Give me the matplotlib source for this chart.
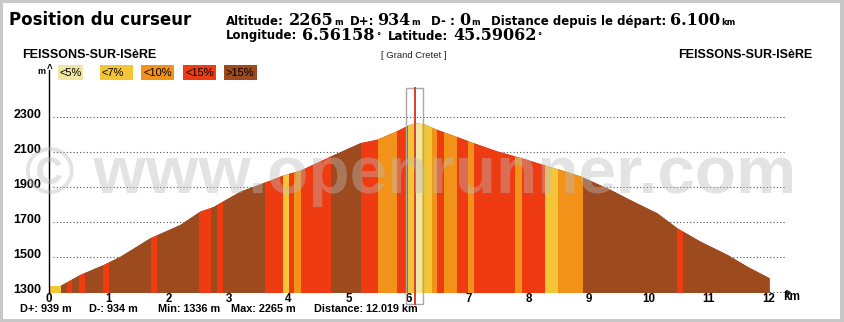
import numpy as np
import matplotlib.pyplot as plt
from matplotlib.patches import Rectangle, Polygon
from matplotlib.transforms import ScaledTranslation

W, H, DPI = 844, 322, 100

# elevation profile: distance (km) / altitude (m)
dist = [0.0, 0.2, 0.53, 0.92, 1.2, 1.7, 2.2, 2.53, 2.75, 3.2, 3.65, 3.92, 4.2,
        4.7, 5.2, 5.48, 5.82, 5.98, 6.1, 6.25, 6.48, 6.75, 7.08, 7.48, 7.87,
        8.32, 8.6, 8.87, 9.37, 9.75, 10.15, 10.48, 10.87, 11.32, 11.65, 12.019]
alt = [1336, 1336, 1399, 1456, 1503, 1609, 1685, 1761, 1787, 1875, 1932, 1968,
       1995, 2075, 2152, 2172, 2222, 2250, 2265, 2262, 2228, 2195, 2153, 2105,
       2068, 2020, 1992, 1962, 1885, 1818, 1751, 1666, 1589, 1513, 1446, 1380]

# slope classes along the route (index into grade_labels)
band_start = [0.0, 0.2, 0.31, 0.39, 0.5, 0.6, 0.9, 1.0, 1.7, 1.81, 2.5, 2.7,
              2.8, 2.9, 3.6, 3.9, 4.0, 4.09, 4.2, 4.7, 5.2, 5.49, 5.8, 5.99,
              6.1, 6.23, 6.39, 6.48, 6.59, 6.8, 6.99, 7.09, 7.78, 7.89, 8.28,
              8.49, 8.9, 10.48, 10.58]
band_end = band_start[1:] + [12.019]
band_grade = [1, 4, 3, 4, 3, 4, 3, 4, 3, 4, 3, 4,
              3, 4, 3, 1, 3, 2, 3, 4, 3, 2, 3, 1,
              0, 1, 2, 3, 2, 3, 2, 3, 2, 3, 1,
              2, 4, 3, 4]

grade_labels = ['<5%', '<7%', '<10%', '<15%', '>15%']
grade_colors = ['#EEE6A2', '#F5C538', '#F29218', '#EE3B12', '#9C4A1E']

y_ticks = [1300, 1500, 1700, 1900, 2100, 2300]
x_ticks = list(range(13))

cursor_km = 6.1
summary = ['D+: 939 m', 'D-: 934 m', 'Min: 1336 m', 'Max: 2265 m',
           'Distance: 12.019 km']

SANS = 'Liberation Sans'
WIDE = 'DejaVu Sans'
SERIF = 'DejaVu Serif'

STYLES = {
    'l': dict(fontsize=8.5, fontweight='bold', family=WIDE),
    'n': dict(fontsize=11.5, fontweight='bold', family=SERIF),
    'u': dict(fontsize=6, fontweight='bold', family=WIDE),
}


def put(fig, x, y, s, **kw):
    # place text using pixel coordinates measured from the top-left corner
    return fig.text(x / W, 1 - y / H, s, **kw)


def chain(fig, renderer, x, y, parts):
    # write label / value / unit pieces one after another
    for s, kind, gap in parts:
        t = put(fig, x, y, s, va='baseline', **STYLES[kind])
        x = t.get_window_extent(renderer).x1 + gap


def main():
    fig = plt.figure(figsize=(W / DPI, H / DPI), dpi=DPI)
    fig.patch.set_facecolor('#C8C8C8')
    fig.patches.append(Rectangle((3 / W, 3 / H), 837 / W, 316 / H,
                                 transform=fig.transFigure, facecolor='white',
                                 edgecolor='none', zorder=-10))
    renderer = fig.canvas.get_renderer()

    # axes: 60 px per km, 0.175 px per metre
    px_km, px_m = 60.0, 0.175
    ax_left, ax_right, ax_top, ax_bot = 48.5, 790, 70, 293
    ymin = 1300 - (ax_bot - 292.3) / px_m
    ymax = 1300 + (292.3 - ax_top) / px_m
    ax = fig.add_axes([ax_left / W, 1 - ax_bot / H,
                       (ax_right - ax_left) / W, (ax_bot - ax_top) / H])
    ax.set_xlim(0, (ax_right - ax_left) / px_km)
    ax.set_ylim(ymin, ymax)
    ax.patch.set_alpha(0)

    # dotted guide lines
    for v in y_ticks:
        ax.plot([0.08, 12.28], [v, v], ls=(0, (1, 2)), color='#505050',
                lw=0.8, zorder=1)
    ax.plot([12.33], [1300], marker='>', ms=3, color='#303030', zorder=1,
            clip_on=False)

    # profile shape, used as clip path for the coloured bands
    verts = [(dist[0], ymin)] + list(zip(dist, alt)) + [(dist[-1], ymin)]
    prof = Polygon(verts, closed=True, facecolor=grade_colors[4],
                   edgecolor='none', zorder=2)
    ax.add_patch(prof)
    for s, e, g in zip(band_start, band_end, band_grade):
        r = ax.axvspan(s, e, color=grade_colors[g], lw=0, zorder=2.5,
                       antialiased=False)
        r.set_clip_path(prof)

    # cursor marker
    y_hi = 1300 + (292.3 - 88) / px_m
    y_lo = 1300 - (304 - 292.3) / px_m
    ax.add_patch(Rectangle((cursor_km - 0.135, y_lo), 0.27, y_hi - y_lo,
                           fill=False, edgecolor='#A8A8A8', lw=1.0,
                           zorder=4, clip_on=False))
    ax.plot([cursor_km, cursor_km], [y_lo, y_hi], color='#D8412C', lw=1.4,
            zorder=4.5, clip_on=False)

    for side in ['top', 'right', 'bottom']:
        ax.spines[side].set_visible(False)
    ax.spines['left'].set_linewidth(1.0)
    ax.spines['left'].set_color('black')

    ax.set_xticks(x_ticks)
    ax.set_xticklabels([str(t) for t in x_ticks])
    ax.set_yticks(y_ticks)
    ax.set_yticklabels([str(t) for t in y_ticks])
    ax.tick_params(length=0)
    ax.tick_params(axis='x', pad=0.3)
    ax.tick_params(axis='y', pad=5)
    for lab in ax.get_xticklabels():
        lab.set_fontfamily(SANS)
        lab.set_fontweight('bold')
        lab.set_fontsize(8.3)
    for lab in ax.get_yticklabels():
        lab.set_fontfamily(SANS)
        lab.set_fontweight('bold')
        lab.set_fontsize(9)
    shift = ScaledTranslation(0, 4 / DPI, fig.dpi_scale_trans)
    for lab in ax.get_yticklabels():
        lab.set_transform(lab.get_transform() + shift)

    put(fig, 783, 297, 'km', fontsize=8.5, fontweight='bold', family=SANS,
        va='center')
    put(fig, 37, 71, 'm', fontsize=6.5, fontweight='bold', family=SANS,
        va='center')
    put(fig, 49.5, 69, '^', fontsize=7, fontweight='bold', family=SANS,
        va='center', ha='center')

    # header
    put(fig, 9, 25, 'Position du curseur', fontsize=12, fontweight='bold',
        family=WIDE, va='baseline')
    chain(fig, renderer, 226, 25, [('Altitude:', 'l', 5), ('2265', 'n', 1),
                                   ('m', 'u', 0)])
    chain(fig, renderer, 350, 25, [('D+:', 'l', 3), ('934', 'n', 1),
                                   ('m', 'u', 0)])
    chain(fig, renderer, 431, 25, [('D- :', 'l', 4), ('0', 'n', 1),
                                   ('m', 'u', 0)])
    chain(fig, renderer, 491, 25, [('Distance depuis le départ:', 'l', 4),
                                   ('6.100', 'n', 1), ('km', 'u', 0)])
    chain(fig, renderer, 226, 39.5, [('Longitude:', 'l', 5),
                                     ('6.56158', 'n', 1), ('°', 'u', 0)])
    chain(fig, renderer, 388, 39.5, [('Latitude:', 'l', 5),
                                     ('45.59062', 'n', 1), ('°', 'u', 0)])

    put(fig, 22, 55, 'FEISSONS-SUR-ISèRE', fontsize=9, fontweight='bold',
        family=SANS, va='center')
    put(fig, 812, 55, 'FEISSONS-SUR-ISèRE', fontsize=9, fontweight='bold',
        family=SANS, va='center', ha='right')
    put(fig, 48 + cursor_km * px_km, 55, '[ Grand Cretet ]', fontsize=6.8,
        family=SANS, va='center', ha='center', color='#222222')

    # slope legend
    box_x = [58, 100, 141, 183, 224]
    box_w = [25, 33, 33, 33, 33]
    for x, w, lab, c in zip(box_x, box_w, grade_labels, grade_colors):
        fig.patches.append(Rectangle((x / W, 1 - 80 / H), w / W, 15 / H,
                                     transform=fig.transFigure, facecolor=c,
                                     edgecolor='none'))
        put(fig, x + 2, 73, lab, fontsize=8, family=SANS, va='center',
            color='black')

    # route summary
    for x, s in zip([20, 89, 158, 231, 314], summary):
        put(fig, x, 311.5, s, fontsize=7.8, fontweight='bold', family=SANS,
            va='baseline')

    put(fig, 411, 193, '© www.openrunner.com', fontsize=48.6,
        fontweight='bold', family=SANS, ha='center', va='baseline',
        color='#BBBBBB', alpha=0.4, zorder=10)

    fig.savefig('out.png', dpi=DPI)


if __name__ == '__main__':
    main()
